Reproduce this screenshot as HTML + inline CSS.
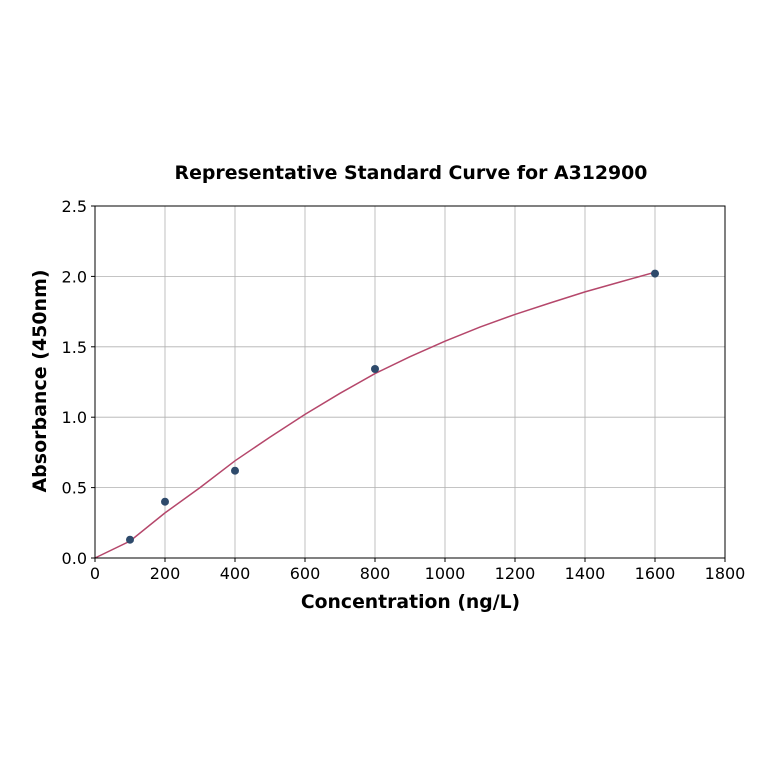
<!DOCTYPE html>
<html><head><meta charset="utf-8"><style>
html,body{margin:0;padding:0;background:#fff}
svg{display:block}
text{font-family:"DejaVu Sans","Liberation Sans",sans-serif;fill:#000}
</style></head><body>
<svg width="764" height="764" viewBox="0 0 764 764" xmlns="http://www.w3.org/2000/svg">
<rect width="764" height="764" fill="#fff"/>
<g stroke="#b0b0b0" stroke-width="0.8">
<line x1="165" y1="206" x2="165" y2="558"/>
<line x1="235" y1="206" x2="235" y2="558"/>
<line x1="305" y1="206" x2="305" y2="558"/>
<line x1="375" y1="206" x2="375" y2="558"/>
<line x1="445" y1="206" x2="445" y2="558"/>
<line x1="515" y1="206" x2="515" y2="558"/>
<line x1="585" y1="206" x2="585" y2="558"/>
<line x1="655" y1="206" x2="655" y2="558"/>
<line x1="95" y1="276.4" x2="725" y2="276.4"/>
<line x1="95" y1="346.8" x2="725" y2="346.8"/>
<line x1="95" y1="417.2" x2="725" y2="417.2"/>
<line x1="95" y1="487.6" x2="725" y2="487.6"/>
</g>
<polyline fill="none" stroke="#b5476b" stroke-width="1.5" points="95,558 130,541.1 165,512.9 200,487.6 235,460.8 270,437.1 305,414.4 340,393.3 375,373.6 410,356.7 445,341.2 480,327.1 515,314.4 550,303 585,291.9 620,282 655,272.2"/>
<g fill="#2e4a6b">
<circle cx="130" cy="539.7" r="4"/>
<circle cx="165" cy="501.7" r="4"/>
<circle cx="235" cy="470.7" r="4"/>
<circle cx="375" cy="369" r="4"/>
<circle cx="655" cy="273.6" r="4"/>
</g>
<rect x="95" y="206" width="630" height="352" fill="none" stroke="#000" stroke-width="1"/>
<g stroke="#000" stroke-width="1">
<line x1="95" y1="558" x2="95" y2="562"/><line x1="165" y1="558" x2="165" y2="562"/>
<line x1="235" y1="558" x2="235" y2="562"/><line x1="305" y1="558" x2="305" y2="562"/>
<line x1="375" y1="558" x2="375" y2="562"/><line x1="445" y1="558" x2="445" y2="562"/>
<line x1="515" y1="558" x2="515" y2="562"/><line x1="585" y1="558" x2="585" y2="562"/>
<line x1="655" y1="558" x2="655" y2="562"/><line x1="725" y1="558" x2="725" y2="562"/>
<line x1="91" y1="558" x2="95" y2="558"/><line x1="91" y1="487.6" x2="95" y2="487.6"/>
<line x1="91" y1="417.2" x2="95" y2="417.2"/><line x1="91" y1="346.8" x2="95" y2="346.8"/>
<line x1="91" y1="276.4" x2="95" y2="276.4"/><line x1="91" y1="206" x2="95" y2="206"/>
</g>
<g font-size="16" text-anchor="middle">
<text x="95" y="579">0</text><text x="165" y="579">200</text><text x="235" y="579">400</text>
<text x="305" y="579">600</text><text x="375" y="579">800</text><text x="445" y="579">1000</text>
<text x="515" y="579">1200</text><text x="585" y="579">1400</text><text x="655" y="579">1600</text>
<text x="725" y="579">1800</text>
</g>
<g font-size="16" text-anchor="end">
<text x="87" y="564">0.0</text><text x="87" y="493.6">0.5</text><text x="87" y="423.2">1.0</text>
<text x="87" y="352.8">1.5</text><text x="87" y="282.4">2.0</text><text x="87" y="212">2.5</text>
</g>
<text x="410.5" y="608" font-size="18.8" font-weight="bold" text-anchor="middle">Concentration (ng/L)</text>
<text transform="translate(46,381) rotate(-90)" font-size="19" font-weight="bold" text-anchor="middle">Absorbance (450nm)</text>
<text x="411" y="179" font-size="18.9" font-weight="bold" text-anchor="middle">Representative Standard Curve for A312900</text>
</svg>
</body></html>
